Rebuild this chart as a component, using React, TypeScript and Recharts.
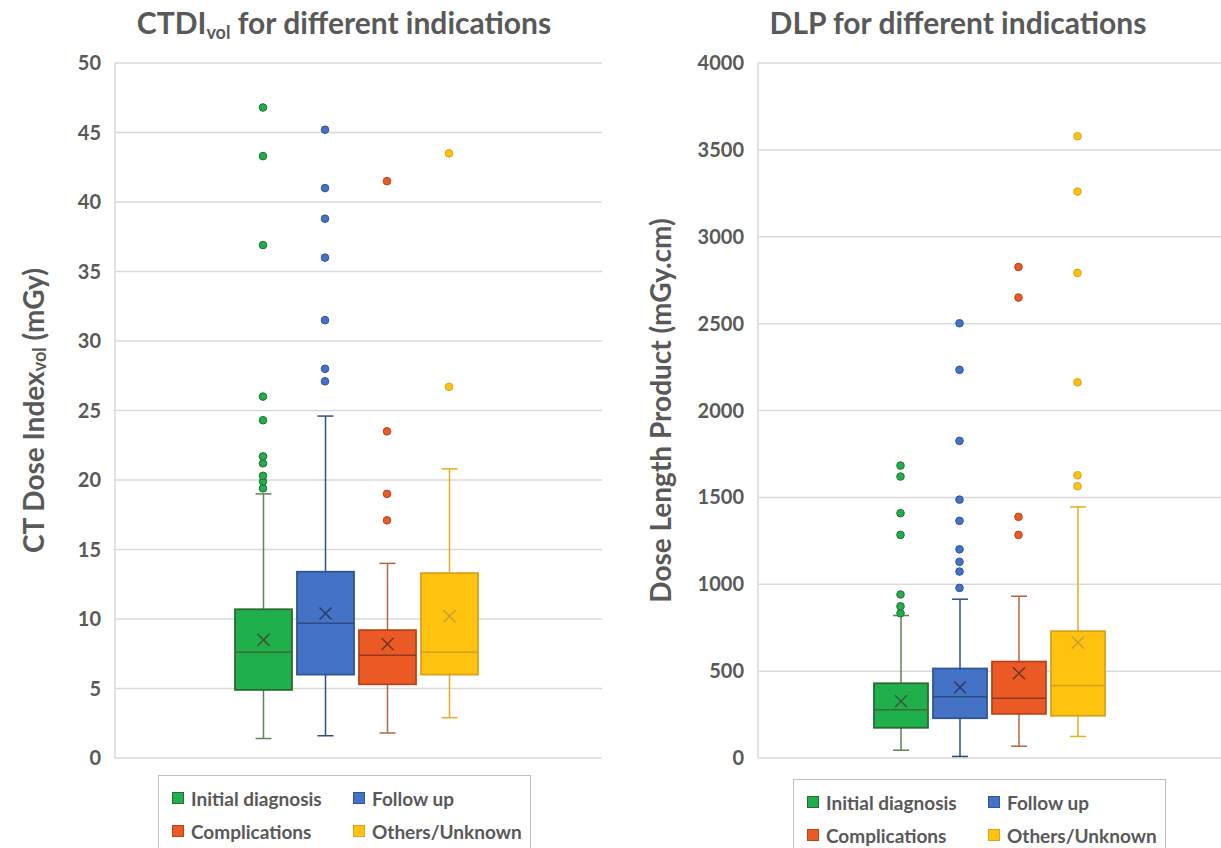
import { Bar, CartesianGrid, ComposedChart, Scatter, XAxis, YAxis } from 'recharts';

const categories = ['Initial diagnosis', 'Follow up', 'Complications', 'Others/Unknown'];

// CTDIvol (mGy)
const ctdiMin = [1.4, 1.6, 1.8, 2.9];
const ctdiQ1 = [4.9, 6.0, 5.3, 6.0];
const ctdiMedian = [7.6, 9.7, 7.4, 7.6];
const ctdiQ3 = [10.7, 13.4, 9.2, 13.3];
const ctdiMax = [19.0, 24.6, 14.0, 20.8];
const ctdiMean = [8.5, 10.4, 8.2, 10.2];
const ctdiOutliers = [
  [19.4, 19.9, 20.3, 21.2, 21.7, 24.3, 26.0, 36.9, 43.3, 46.8],
  [27.1, 28.0, 31.5, 36.0, 38.8, 41.0, 45.2],
  [17.1, 19.0, 23.5, 41.5],
  [26.7, 43.5],
];
const ctdiTicks = [0, 5, 10, 15, 20, 25, 30, 35, 40, 45, 50];

// DLP (mGy.cm)
const dlpMin = [45, 9, 68, 124];
const dlpQ1 = [174, 229, 254, 243];
const dlpMedian = [277, 352, 344, 417];
const dlpQ3 = [430, 515, 555, 730];
const dlpMax = [820, 914, 931, 1445];
const dlpMean = [327, 407, 488, 665];
const dlpOutliers = [
  [833, 873, 941, 1284, 1409, 1620, 1683],
  [979, 1073, 1129, 1201, 1365, 1487, 1825, 2234, 2502],
  [1284, 1388, 2650, 2826],
  [1564, 1627, 2162, 2792, 3260, 3578],
];
const dlpTicks = [0, 500, 1000, 1500, 2000, 2500, 3000, 3500, 4000];

const fills = ['#1FAF4B', '#4472C4', '#EB5A25', '#FFC20E'];
const edges = ['#2A6B35', '#2F5597', '#B8441C', '#D9A31A'];
const whiskers = ['#5F8552', '#2F4D8A', '#B5673F', '#E8AE1C'];
const medians = ['#3E6B3C', '#2E4A80', '#8F3B1C', '#CFA024'];
const means = ['#3C573C', '#2A3C66', '#703520', '#C79F35'];

const FONT = 'Lato, "Open Sans", sans-serif';
const TEXT = '#595959';

const makeRows = (mn: number[], q1: number[], md: number[], q3: number[], mx: number[], mean: number[]) =>
  categories.map((name, idx) => ({ name, idx, min: mn[idx], q1: q1[idx], median: md[idx], q3: q3[idx], max: mx[idx], mean: mean[idx] }));

const makeOutliers = (out: number[][]) =>
  out.flatMap((vals, idx) => vals.map((value) => ({ name: categories[idx], idx, value })));

const BoxShape = (props: any) => {
  const { x, y, width, height, payload } = props;
  const top = Math.min(y, y + height);
  const bottom = Math.max(y, y + height);
  const toY = (v: number) => bottom - ((v - payload.min) / (payload.max - payload.min)) * (bottom - top);
  const i = payload.idx;
  const cx = x + width / 2;
  const yq1 = toY(payload.q1);
  const yq3 = toY(payload.q3);
  const ymed = toY(payload.median);
  const ymean = toY(payload.mean);
  const cap = 8;
  const m = 6;
  return (
    <g>
      <line x1={cx} x2={cx} y1={top} y2={yq3} stroke={whiskers[i]} strokeWidth={1.5} />
      <line x1={cx} x2={cx} y1={yq1} y2={bottom} stroke={whiskers[i]} strokeWidth={1.5} />
      <line x1={cx - cap} x2={cx + cap} y1={top} y2={top} stroke={whiskers[i]} strokeWidth={1.5} />
      <line x1={cx - cap} x2={cx + cap} y1={bottom} y2={bottom} stroke={whiskers[i]} strokeWidth={1.5} />
      <rect x={x} y={yq3} width={width} height={yq1 - yq3} fill={fills[i]} stroke={edges[i]} strokeWidth={1.8} />
      <line x1={x} x2={x + width} y1={ymed} y2={ymed} stroke={medians[i]} strokeWidth={1.5} />
      <path
        d={`M${cx - m},${ymean - m}L${cx + m},${ymean + m}M${cx + m},${ymean - m}L${cx - m},${ymean + m}`}
        stroke={means[i]}
        strokeWidth={1.5}
      />
    </g>
  );
};

const Dot = (p: any) => (
  <circle cx={p.cx} cy={p.cy} r={3.8} fill={fills[p.payload.idx]} stroke={edges[p.payload.idx]} strokeWidth={1} />
);

type ChartProps = {
  rows: any[];
  outliers: any[];
  ticks: number[];
  width: number;
  yAxisWidth: number;
  padding: { left: number; right: number };
  barSize: number;
  labelX: number;
  label: React.ReactNode;
};

const BoxChart = ({ rows, outliers, ticks, width, yAxisWidth, padding, barSize, labelX, label }: ChartProps) => (
  <ComposedChart width={width} height={848} data={rows} margin={{ top: 63, right: 0, bottom: 90, left: 0 }}>
    <CartesianGrid vertical={false} stroke="#D9D9D9" strokeWidth={1.5} />
    <XAxis dataKey="name" type="category" allowDuplicatedCategory={false} hide padding={padding} />
    <YAxis
      type="number"
      domain={[ticks[0], ticks[ticks.length - 1]]}
      ticks={ticks}
      interval={0}
      width={yAxisWidth}
      axisLine={{ stroke: '#D9D9D9', strokeWidth: 1.5 }}
      tickLine={false}
      tickMargin={8}
      tick={{ fill: TEXT, fontSize: 20, fontWeight: 700, fontFamily: FONT }}
      label={{
        content: (p: any) => {
          const vb = p.viewBox;
          const cx = vb.x + labelX;
          const cy = vb.y + vb.height / 2;
          return (
            <text
              x={cx}
              y={cy}
              transform={`rotate(-90 ${cx} ${cy})`}
              textAnchor="middle"
              dominantBaseline="central"
              fill={TEXT}
              fontSize={28}
              fontWeight={700}
              fontFamily={FONT}
            >
              {label}
            </text>
          );
        },
      }}
    />
    <Bar dataKey={(d: any) => [d.min, d.max]} barSize={barSize} shape={BoxShape} isAnimationActive={false} />
    <Scatter data={outliers} dataKey="value" shape={Dot} isAnimationActive={false} />
  </ComposedChart>
);

const LegendItem = ({ i, left, top }: { i: number; left: number; top: number }) => (
  <div style={{ position: 'absolute', left, top, display: 'flex', alignItems: 'center', height: 22 }}>
    <div style={{ width: 10, height: 10, background: fills[i], border: `1px solid ${edges[i]}` }} />
    <span style={{ marginLeft: 7, fontSize: 19, fontWeight: 700, color: TEXT, whiteSpace: 'nowrap' }}>{categories[i]}</span>
  </div>
);

const LegendBox = ({ left, top }: { left: number; top: number }) => (
  <div
    style={{
      position: 'absolute',
      left,
      top,
      width: 373,
      height: 100,
      border: '1.5px solid #BFBFBF',
      background: '#fff',
      boxSizing: 'border-box',
    }}
  >
    <LegendItem i={0} left={13} top={11} />
    <LegendItem i={1} left={194} top={11} />
    <LegendItem i={2} left={13} top={44} />
    <LegendItem i={3} left={194} top={44} />
  </div>
);

export default function App() {
  const ctdiRows = makeRows(ctdiMin, ctdiQ1, ctdiMedian, ctdiQ3, ctdiMax, ctdiMean);
  const dlpRows = makeRows(dlpMin, dlpQ1, dlpMedian, dlpQ3, dlpMax, dlpMean);

  return (
    <div
      style={{
        position: 'absolute',
        left: 0,
        top: 0,
        width: 1221,
        height: 848,
        overflow: 'hidden',
        background: '#fff',
        fontFamily: FONT,
      }}
    >
      <div style={{ position: 'absolute', left: 44, top: 3, width: 600, textAlign: 'center', fontSize: 30, fontWeight: 700, color: TEXT, lineHeight: '38px' }}>
        CTDI<span style={{ fontSize: 18, verticalAlign: -5 }}>vol</span> for different indications
      </div>
      <div style={{ position: 'absolute', left: 658, top: 3, width: 600, textAlign: 'center', fontSize: 30, fontWeight: 700, color: TEXT, lineHeight: '38px' }}>
        DLP for different indications
      </div>

      <div style={{ position: 'absolute', left: 0, top: 0 }}>
        <BoxChart
          rows={ctdiRows}
          outliers={makeOutliers(ctdiOutliers)}
          ticks={ctdiTicks}
          width={602}
          yAxisWidth={115}
          padding={{ left: 117, right: 122 }}
          barSize={57}
          labelX={33}
          label={
            <>
              CT Dose Index
              <tspan fontSize={18} dy={6}>vol</tspan>
              <tspan dy={-6}> (mGy)</tspan>
            </>
          }
        />
      </div>
      <div style={{ position: 'absolute', left: 620, top: 0 }}>
        <BoxChart
          rows={dlpRows}
          outliers={makeOutliers(dlpOutliers)}
          ticks={dlpTicks}
          width={601}
          yAxisWidth={138}
          padding={{ left: 113, right: 114 }}
          barSize={54}
          labelX={40}
          label="Dose Length Product (mGy.cm)"
        />
      </div>

      <LegendBox left={158} top={775} />
      <LegendBox left={793} top={779} />
    </div>
  );
}
